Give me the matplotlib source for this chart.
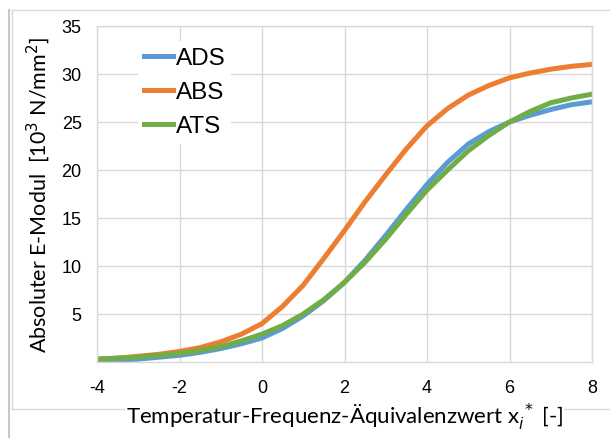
import numpy as np
import matplotlib
matplotlib.use('Agg')
import matplotlib.pyplot as plt
from matplotlib.lines import Line2D

# Temperatur-Frequenz-Aequivalenzwert
x_vals = [-4, -3.5, -3, -2.5, -2, -1.5, -1, -0.5, 0, 0.5, 1, 1.5, 2, 2.5,
          3, 3.5, 4, 4.5, 5, 5.5, 6, 6.5, 7, 7.5, 8]

# Absoluter E-Modul in 10^3 N/mm^2
ads = [0.1, 0.2, 0.3, 0.5, 0.7, 1.0, 1.4, 1.9, 2.5, 3.5, 4.8, 6.4, 8.3, 10.6,
       13.2, 15.9, 18.5, 20.8, 22.7, 24.0, 25.0, 25.7, 26.3, 26.8, 27.1]
abs_ = [0.3, 0.4, 0.6, 0.8, 1.1, 1.5, 2.1, 2.9, 4.0, 5.8, 8.0, 10.8, 13.7, 16.7,
        19.5, 22.2, 24.6, 26.4, 27.8, 28.8, 29.6, 30.1, 30.5, 30.8, 31.0]
ats = [0.3, 0.4, 0.5, 0.7, 0.9, 1.2, 1.6, 2.2, 2.9, 3.8, 5.0, 6.5, 8.3, 10.4,
       12.8, 15.4, 17.9, 20.0, 22.0, 23.6, 25.0, 26.1, 27.0, 27.5, 27.9]

series = [('ADS', ads, '#5B9BD5'), ('ABS', abs_, '#ED7D31'), ('ATS', ats, '#70AD47')]

x_ticks = [-4, -2, 0, 2, 4, 6, 8]
y_ticks = [5, 10, 15, 20, 25, 30, 35]

W, H = 610, 439
fig = plt.figure(figsize=(W / 100, H / 100), dpi=100)
ax = fig.add_axes([97 / W, 1 - 363 / H, (592 - 97) / W, (363 - 27) / H])

for name, vals, color in series:
    ax.plot(x_vals, vals, color=color, lw=3.6, label=name)

ax.set_xlim(-4, 8)
ax.set_ylim(0, 35)
ax.set_xticks(x_ticks)
ax.set_yticks(y_ticks)
ax.set_xticklabels([str(t) for t in x_ticks])
ax.set_yticklabels([str(t) for t in y_ticks])
ax.grid(True, color='#d9d9d9', lw=1)
ax.set_axisbelow(True)
for s in ax.spines.values():
    s.set_color('#d9d9d9')
    s.set_linewidth(1)
ax.tick_params(length=0, labelsize=13, colors='black', pad=11)
ax.tick_params(axis='x', pad=12)
for lab in ax.get_xticklabels() + ax.get_yticklabels():
    lab.set_family('Liberation Sans')

ax.set_xlabel(r'Temperatur-Frequenz-Äquivalenzwert $\mathregular{x}_i^{\,*}$ [-]',
              fontsize=16, family='Lato', labelpad=4,
              bbox=dict(facecolor='white', edgecolor='none', pad=1))
ax.set_ylabel(r'Absoluter E-Modul  [10$^3$ N/mm$^2$]',
              fontsize=15.5, family='Lato', labelpad=7)

leg = ax.legend(loc='upper left', bbox_to_anchor=(138 / W, 1 - 42 / H),
                bbox_transform=fig.transFigure,
                frameon=True, fancybox=False, edgecolor='none', facecolor='white',
                framealpha=1, fontsize=17.5, handlelength=1.2, handletextpad=0.1,
                labelspacing=0.5, borderpad=0.25, borderaxespad=0)
for t in leg.get_texts():
    t.set_family('Liberation Sans')

# chart frame
def px_line(x0, y0, x1, y1, color, lw):
    fig.add_artist(Line2D([x0 / W, x1 / W], [1 - y0 / H, 1 - y1 / H],
                          transform=fig.transFigure, color=color, lw=lw, zorder=-1))

px_line(12, 11, 612, 11, '#d9d9d9', 1)
px_line(12, 11, 12, 410, '#d9d9d9', 1)
px_line(12, 410, 612, 410, '#d9d9d9', 1)
px_line(8.5, 11, 8.5, 439, '#c8c8c8', 1.5)

fig.savefig('out.png', dpi=100)
